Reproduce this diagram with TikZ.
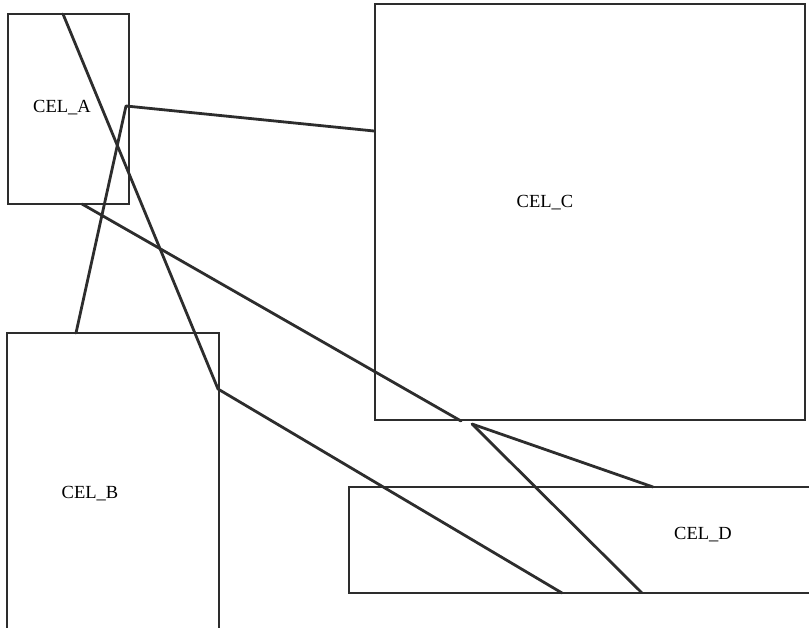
\documentclass[tikz,border=0pt]{standalone}
\usepackage{fontspec}
\setmainfont{Liberation Serif}
\definecolor{ink}{RGB}{45,45,45}
\tikzset{
  box/.style={draw=ink, line width=2.2pt, rectangle, inner sep=0pt},
  wire/.style={draw=ink, line width=2.8pt, line cap=round, line join=round},
  lbl/.style={font=\fontsize{18.5}{20}\selectfont, inner sep=0pt, text=black}
}
\begin{document}
\begin{tikzpicture}[x=1pt,y=-1pt]
\useasboundingbox (0,0) rectangle (809,628);
\clip (0,0) rectangle (809,628);
% boxes
\node[box, minimum width=121pt, minimum height=190pt] (A) at (68.5,109) {};
\node[box, minimum width=212pt, minimum height=310pt] (B) at (113,488) {};
\node[box, minimum width=430pt, minimum height=416pt] (C) at (590,212) {};
\node[box, minimum width=480pt, minimum height=106pt] (D) at (589,540) {};
% labels
\node[lbl] (la) at (62,108) {CEL\_A};
\node[lbl] (lb) at (90,494) {CEL\_B};
\node[lbl] (lc) at (545,203) {CEL\_C};
\node[lbl] (ld) at (703,535) {CEL\_D};
% connector points
\coordinate (At) at (63,14);
\coordinate (Ar) at (126,106);
\coordinate (Ab) at (82,204);
\coordinate (Bt) at (76,333);
\coordinate (Br) at (218,389);
\coordinate (Cl) at (374,131);
\coordinate (Cb1) at (461,421);
\coordinate (Cb2) at (472,424);
\coordinate (Dt) at (653,487);
\coordinate (Db1) at (562,593);
\coordinate (Db2) at (642,593);
% connectors
\draw[wire] (At) -- (Br) -- (Db1);
\draw[wire] (Bt) -- (Ar) -- (Cl);
\draw[wire] (Ab) -- (Cb1);
\draw[wire] (Cb2) -- (Dt);
\draw[wire] (Cb2) -- (Db2);
\end{tikzpicture}
\end{document}
